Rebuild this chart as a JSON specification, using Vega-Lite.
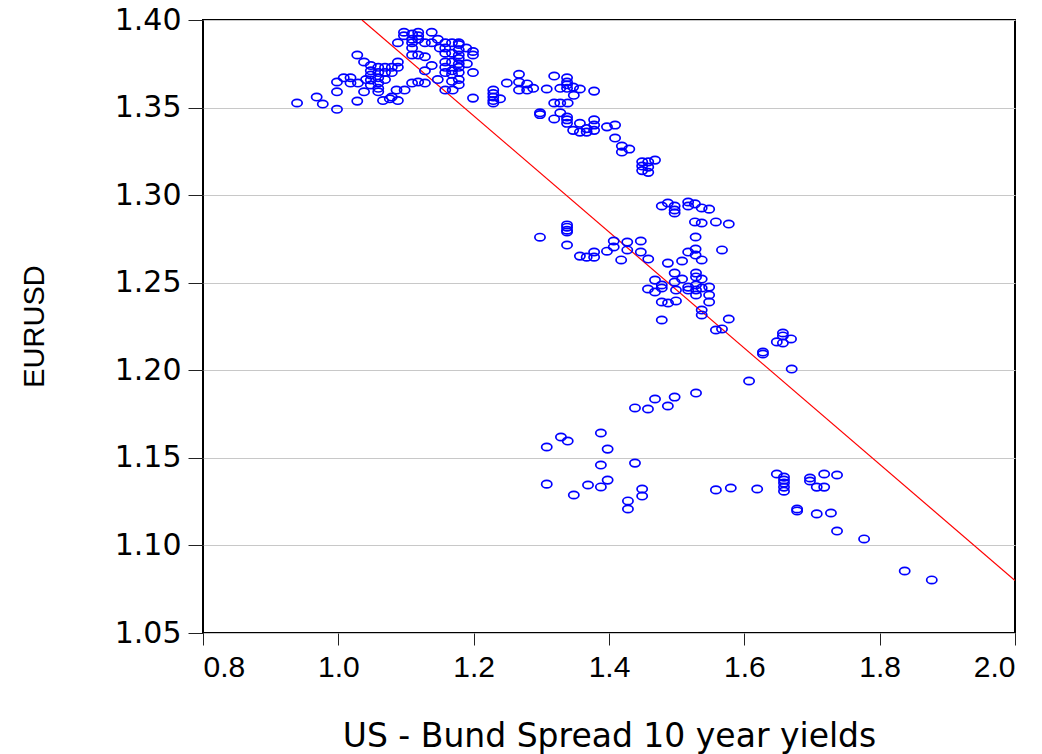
{
  "$schema": "https://vega.github.io/schema/vega-lite/v6.json",
  "width": 812,
  "height": 613,
  "autosize": {"type": "none"},
  "padding": {"left": 203, "top": 20, "right": 27, "bottom": 121},
  "background": "white",
  "config": {
    "view": {"stroke": "#000000", "strokeWidth": 2},
    "axis": {"domain": false, "tickColor": "#222222", "tickWidth": 1, "labelColor": "#000000", "titleColor": "#000000", "labelFont": "DejaVu Sans", "labelFontSize": 28, "titleFontWeight": "normal"}
  },
  "datasets": {
    "pts": [
      {"x":0.939,"y":1.3526},{"x":0.968,"y":1.356},{"x":0.977,"y":1.352},{"x":0.998,"y":1.349},{"x":0.998,"y":1.359},{"x":0.998,"y":1.3646},
      {"x":1.008,"y":1.367},{"x":1.018,"y":1.367},{"x":1.018,"y":1.364},{"x":1.029,"y":1.364},{"x":1.028,"y":1.38},{"x":1.028,"y":1.3537},
      {"x":1.038,"y":1.376},{"x":1.038,"y":1.359},{"x":1.041,"y":1.366},{"x":1.048,"y":1.374},{"x":1.048,"y":1.371},{"x":1.048,"y":1.3686},
      {"x":1.048,"y":1.3657},{"x":1.048,"y":1.3629},{"x":1.059,"y":1.373},{"x":1.059,"y":1.37},{"x":1.059,"y":1.367},{"x":1.059,"y":1.364},
      {"x":1.059,"y":1.361},{"x":1.059,"y":1.359},{"x":1.069,"y":1.373},{"x":1.069,"y":1.37},{"x":1.069,"y":1.366},{"x":1.079,"y":1.373},
      {"x":1.079,"y":1.37},{"x":1.088,"y":1.376},{"x":1.088,"y":1.373},{"x":1.066,"y":1.354},{"x":1.076,"y":1.355},{"x":1.079,"y":1.356},
      {"x":1.088,"y":1.354},{"x":1.086,"y":1.36},{"x":1.098,"y":1.36},{"x":1.109,"y":1.364},{"x":1.118,"y":1.3646},{"x":1.128,"y":1.364},
      {"x":1.097,"y":1.393},{"x":1.097,"y":1.391},{"x":1.109,"y":1.392},{"x":1.109,"y":1.389},{"x":1.109,"y":1.387},{"x":1.109,"y":1.384},
      {"x":1.109,"y":1.38},{"x":1.118,"y":1.393},{"x":1.118,"y":1.391},{"x":1.118,"y":1.389},{"x":1.128,"y":1.387},{"x":1.138,"y":1.393},
      {"x":1.138,"y":1.387},{"x":1.147,"y":1.389},{"x":1.15,"y":1.384},{"x":1.088,"y":1.387},{"x":1.118,"y":1.38},{"x":1.128,"y":1.379},
      {"x":1.138,"y":1.374},{"x":1.128,"y":1.371},{"x":1.147,"y":1.366},{"x":1.158,"y":1.387},{"x":1.158,"y":1.384},{"x":1.158,"y":1.381},
      {"x":1.158,"y":1.376},{"x":1.158,"y":1.373},{"x":1.158,"y":1.37},{"x":1.168,"y":1.387},{"x":1.168,"y":1.381},{"x":1.168,"y":1.376},
      {"x":1.168,"y":1.371},{"x":1.168,"y":1.369},{"x":1.178,"y":1.387},{"x":1.178,"y":1.386},{"x":1.178,"y":1.383},{"x":1.178,"y":1.38},
      {"x":1.178,"y":1.378},{"x":1.178,"y":1.375},{"x":1.178,"y":1.373},{"x":1.178,"y":1.37},{"x":1.189,"y":1.384},{"x":1.199,"y":1.382},
      {"x":1.199,"y":1.38},{"x":1.19,"y":1.375},{"x":1.199,"y":1.37},{"x":1.178,"y":1.366},{"x":1.178,"y":1.363},{"x":1.168,"y":1.365},
      {"x":1.158,"y":1.36},{"x":1.169,"y":1.36},{"x":1.199,"y":1.3554},
      {"x":1.229,"y":1.36},{"x":1.229,"y":1.358},{"x":1.229,"y":1.356},{"x":1.229,"y":1.354},{"x":1.229,"y":1.3526},{"x":1.239,"y":1.355},
      {"x":1.249,"y":1.364},{"x":1.267,"y":1.369},{"x":1.267,"y":1.3646},{"x":1.267,"y":1.36},{"x":1.279,"y":1.3635},{"x":1.279,"y":1.36},
      {"x":1.288,"y":1.361},{"x":1.308,"y":1.3606},{"x":1.319,"y":1.368},{"x":1.328,"y":1.361},{"x":1.338,"y":1.367},{"x":1.338,"y":1.3646},
      {"x":1.338,"y":1.363},{"x":1.338,"y":1.361},{"x":1.347,"y":1.3617},{"x":1.357,"y":1.3606},{"x":1.378,"y":1.3594},{"x":1.348,"y":1.357},
      {"x":1.339,"y":1.3526},{"x":1.328,"y":1.3526},{"x":1.319,"y":1.3526},{"x":1.298,"y":1.347},{"x":1.298,"y":1.346},{"x":1.319,"y":1.3435},
      {"x":1.328,"y":1.347},{"x":1.338,"y":1.3446},{"x":1.338,"y":1.343},{"x":1.338,"y":1.341},{"x":1.347,"y":1.337},{"x":1.357,"y":1.341},
      {"x":1.357,"y":1.336},{"x":1.367,"y":1.338},{"x":1.378,"y":1.343},{"x":1.378,"y":1.34},{"x":1.378,"y":1.337},{"x":1.367,"y":1.336},
      {"x":1.397,"y":1.339},{"x":1.409,"y":1.34},{"x":1.409,"y":1.3326},{"x":1.419,"y":1.328},{"x":1.419,"y":1.3246},{"x":1.43,"y":1.3263},
      {"x":1.449,"y":1.319},{"x":1.449,"y":1.3166},{"x":1.449,"y":1.314},{"x":1.458,"y":1.319},{"x":1.458,"y":1.316},{"x":1.458,"y":1.313},
      {"x":1.468,"y":1.32},
      {"x":1.298,"y":1.276},{"x":1.338,"y":1.283},{"x":1.338,"y":1.2817},{"x":1.338,"y":1.28},{"x":1.338,"y":1.279},{"x":1.338,"y":1.2715},
      {"x":1.357,"y":1.2652},{"x":1.367,"y":1.2646},{"x":1.378,"y":1.2675},{"x":1.378,"y":1.2646},{"x":1.397,"y":1.268},{"x":1.407,"y":1.2738},
      {"x":1.407,"y":1.2704},{"x":1.418,"y":1.263},{"x":1.427,"y":1.2732},{"x":1.427,"y":1.2687},{"x":1.447,"y":1.2738},{"x":1.447,"y":1.2675},
      {"x":1.458,"y":1.2635},{"x":1.478,"y":1.2938},{"x":1.487,"y":1.2955},{"x":1.497,"y":1.2938},{"x":1.497,"y":1.2915},{"x":1.497,"y":1.2898},
      {"x":1.517,"y":1.2961},{"x":1.517,"y":1.2938},{"x":1.527,"y":1.295},{"x":1.537,"y":1.2927},{"x":1.548,"y":1.292},{"x":1.527,"y":1.2847},
      {"x":1.537,"y":1.2841},{"x":1.558,"y":1.2847},{"x":1.577,"y":1.2835},{"x":1.528,"y":1.2761},{"x":1.517,"y":1.2675},{"x":1.528,"y":1.2692},
      {"x":1.528,"y":1.2658},{"x":1.537,"y":1.263},{"x":1.567,"y":1.2687},{"x":1.487,"y":1.2612},{"x":1.508,"y":1.2624},
      {"x":1.468,"y":1.2515},{"x":1.478,"y":1.2487},{"x":1.478,"y":1.247},{"x":1.497,"y":1.2555},{"x":1.497,"y":1.2504},{"x":1.508,"y":1.2521},
      {"x":1.499,"y":1.2458},{"x":1.517,"y":1.2475},{"x":1.517,"y":1.2458},{"x":1.5286,"y":1.2555},{"x":1.5286,"y":1.2533},{"x":1.5286,"y":1.2487},
      {"x":1.5286,"y":1.2458},{"x":1.5286,"y":1.243},{"x":1.537,"y":1.2521},{"x":1.537,"y":1.247},{"x":1.548,"y":1.2475},{"x":1.548,"y":1.243},
      {"x":1.548,"y":1.239},{"x":1.537,"y":1.2344},{"x":1.537,"y":1.2316},{"x":1.4576,"y":1.2464},{"x":1.468,"y":1.2447},{"x":1.478,"y":1.239},
      {"x":1.4873,"y":1.2384},{"x":1.499,"y":1.2396},{"x":1.478,"y":1.2287},{"x":1.558,"y":1.223},{"x":1.567,"y":1.2236},{"x":1.577,"y":1.2293},
      {"x":1.657,"y":1.2213},{"x":1.657,"y":1.2196},{"x":1.648,"y":1.2162},{"x":1.657,"y":1.2156},{"x":1.669,"y":1.2179},{"x":1.6275,"y":1.2104},
      {"x":1.6275,"y":1.2093},{"x":1.67,"y":1.2007},{"x":1.607,"y":1.1939},
      {"x":1.648,"y":1.1408},{"x":1.6586,"y":1.139},{"x":1.6586,"y":1.1373},{"x":1.6586,"y":1.1356},{"x":1.6586,"y":1.1333},{"x":1.6586,"y":1.131},
      {"x":1.697,"y":1.1385},{"x":1.697,"y":1.1368},{"x":1.718,"y":1.1408},{"x":1.737,"y":1.1402},{"x":1.707,"y":1.1333},{"x":1.718,"y":1.1333},
      {"x":1.619,"y":1.1322},{"x":1.58,"y":1.1328},{"x":1.678,"y":1.1208},{"x":1.678,"y":1.1197},{"x":1.707,"y":1.118},{"x":1.728,"y":1.1185},
      {"x":1.737,"y":1.1082},{"x":1.777,"y":1.1037},{"x":1.837,"y":1.0854},{"x":1.877,"y":1.0803},
      {"x":1.5286,"y":1.187},{"x":1.497,"y":1.1847},{"x":1.487,"y":1.1796},{"x":1.468,"y":1.1836},{"x":1.4576,"y":1.1779},{"x":1.4384,"y":1.1785},
      {"x":1.388,"y":1.1642},{"x":1.329,"y":1.1619},{"x":1.339,"y":1.1596},{"x":1.308,"y":1.1562},{"x":1.398,"y":1.155},{"x":1.388,"y":1.1459},
      {"x":1.4384,"y":1.147},{"x":1.308,"y":1.135},{"x":1.348,"y":1.1288},{"x":1.369,"y":1.1345},{"x":1.388,"y":1.1334},{"x":1.398,"y":1.1373},
      {"x":1.449,"y":1.1322},{"x":1.449,"y":1.1282},{"x":1.428,"y":1.1254},{"x":1.428,"y":1.1208},{"x":1.558,"y":1.1317}
    ],
    "fit": [
      {"x": 1.035, "y": 1.40},
      {"x": 2.0, "y": 1.08}
    ]
  },
  "layer": [
    {
      "data": {"name": "fit"},
      "mark": {"type": "line", "color": "#ff0000", "strokeWidth": 1.2, "clip": true},
      "encoding": {
        "x": {"field": "x", "type": "quantitative", "scale": {"domain": [0.8, 2.0], "nice": false, "zero": false},
          "axis": {"values": [0.8, 1.0, 1.2, 1.4, 1.6, 1.8, 2.0], "format": ".1f", "grid": false, "tickSize": 12, "labelPadding": 7,
            "labelFont": "Liberation Sans", "labelFontSize": 30,
            "title": "US - Bund Spread 10 year yields", "titleFont": "DejaVu Sans", "titleFontSize": 33, "titleBaseline": "alphabetic", "titleY": 113, "titleX": 406, "titleAlign": "center"}},
        "y": {"field": "y", "type": "quantitative", "scale": {"domain": [1.05, 1.40], "nice": false, "zero": false},
          "axis": {"values": [1.05, 1.1, 1.15, 1.2, 1.25, 1.3, 1.35, 1.4], "format": ".2f", "grid": true, "gridColor": "#c8c8c8", "gridWidth": 1, "tickSize": 15, "labelPadding": 7,
            "labelFont": "DejaVu Sans", "labelFontSize": 30,
            "title": "EURUSD", "titleFont": "Liberation Sans", "titleFontSize": 29, "titleAngle": -90, "titleBaseline": "alphabetic", "titleX": -160, "titleY": 306, "titleAlign": "center"}}
      }
    },
    {
      "data": {"name": "pts"},
      "mark": {"type": "point", "shape": "M -1 0 A 1 0.72 0 1 1 1 0 A 1 0.72 0 1 1 -1 0 Z", "filled": false, "color": "#0000ff", "strokeWidth": 1.7, "size": 105, "opacity": 1, "clip": true},
      "encoding": {
        "x": {"field": "x", "type": "quantitative"},
        "y": {"field": "y", "type": "quantitative"}
      }
    }
  ]
}
